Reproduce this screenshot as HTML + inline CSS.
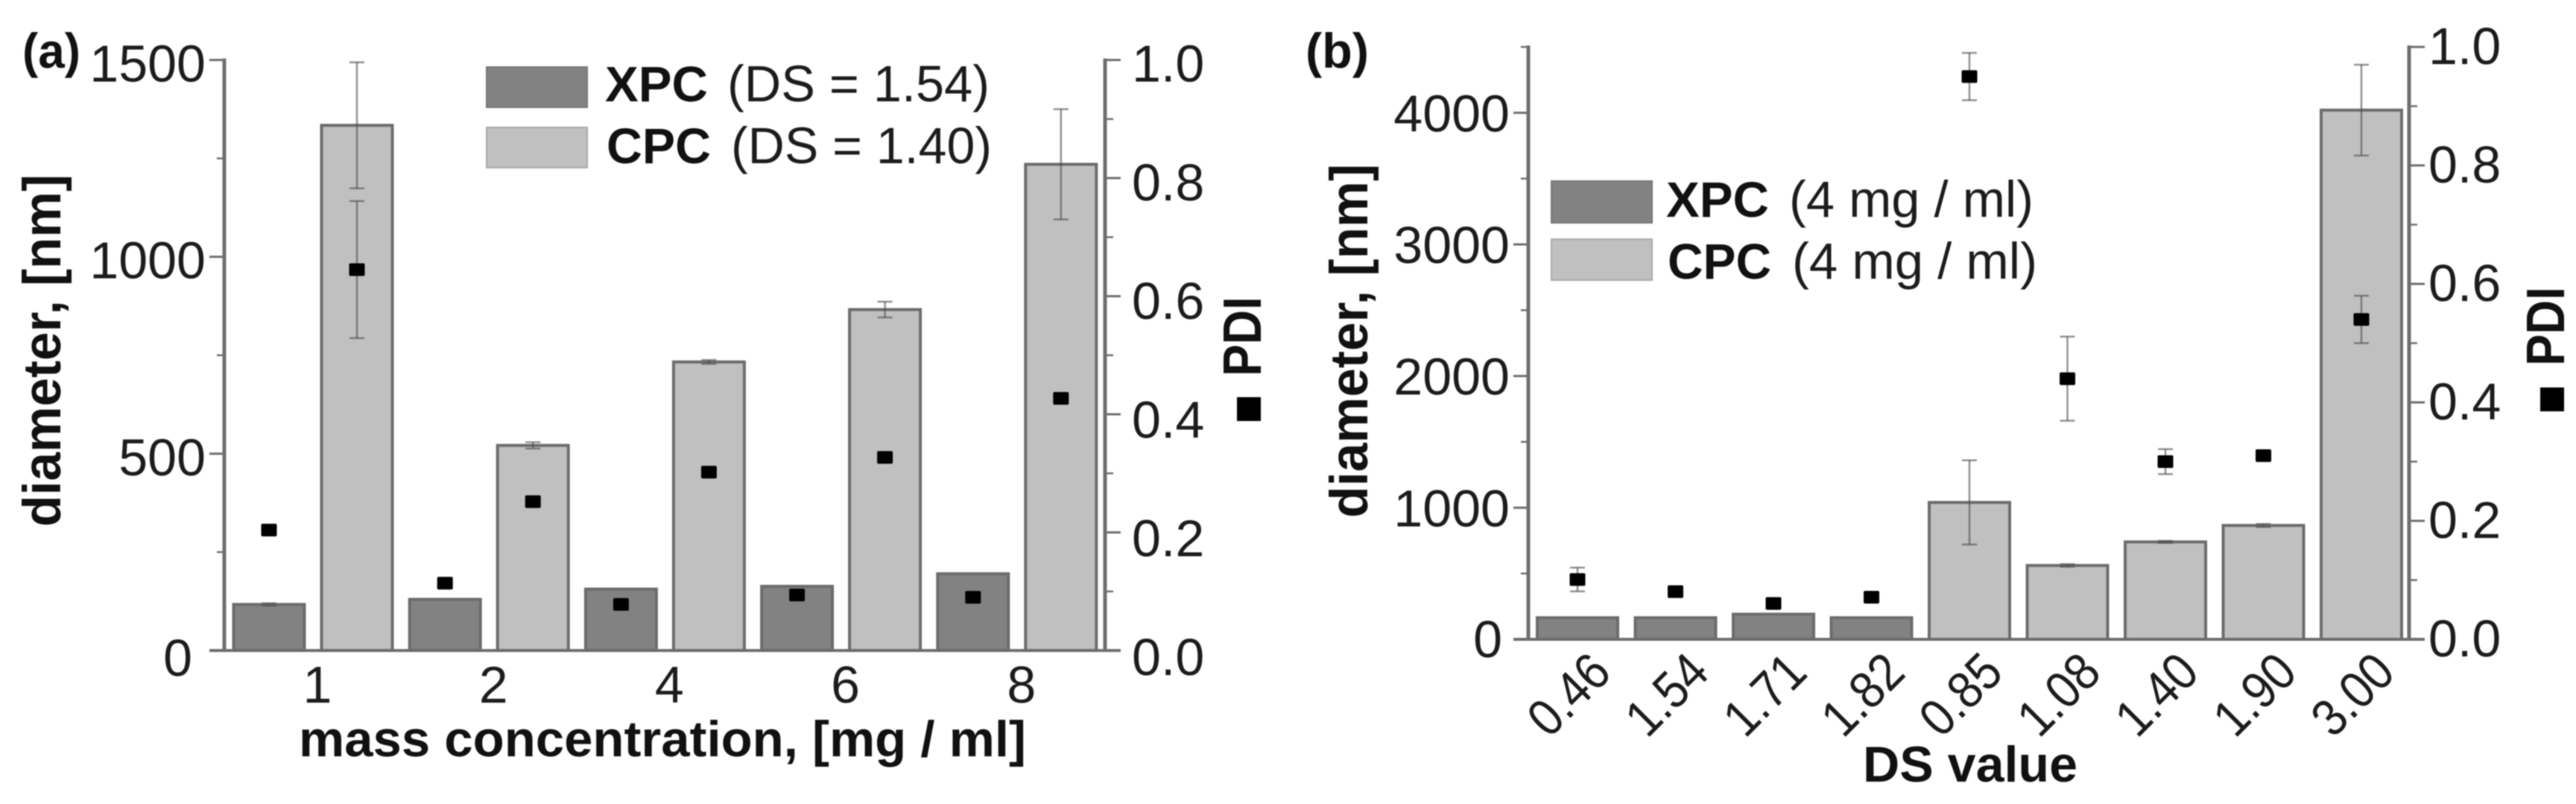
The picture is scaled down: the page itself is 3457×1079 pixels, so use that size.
<!DOCTYPE html>
<html lang="en">
<head>
<meta charset="utf-8">
<title>Diameter and PDI bar charts</title>
<style>
html,body{margin:0;padding:0;background:#fff;}
body{width:3457px;height:1079px;overflow:hidden;}
svg{display:block;filter:blur(0.9px);}
text{font-family:"Liberation Sans",Arial,sans-serif;fill:#1c1c1c;}
.b{font-weight:bold;fill:#111;}
</style>
</head>
<body>
<svg id="chart" width="3457" height="1079" viewBox="0 0 3457 1079" xmlns="http://www.w3.org/2000/svg">
  <rect width="3457" height="1079" fill="#ffffff"/>
  <g id="panelA">
    <text class="b" x="30" y="91" font-size="66" textLength="78" lengthAdjust="spacingAndGlyphs">(a)</text>
    <text class="b" x="81" y="707" font-size="71" textLength="473" lengthAdjust="spacingAndGlyphs" transform="rotate(-90 81 707)">diameter, [nm]</text>
    <text class="b" x="401" y="1015" font-size="68" textLength="976" lengthAdjust="spacingAndGlyphs">mass concentration, [mg / ml]</text>
    <text class="b" x="1692" y="505" font-size="72" textLength="107" lengthAdjust="spacingAndGlyphs" transform="rotate(-90 1692 505)">PDI</text>
    <rect x="1660" y="533" width="32" height="32" fill="#000"/>
    <g>
      <rect x="653" y="90" width="135" height="54" fill="#828282" stroke="#767676" stroke-width="2"/>
      <text class="b" x="812" y="136" font-size="67" textLength="138" lengthAdjust="spacingAndGlyphs">XPC</text>
      <text x="976" y="136" font-size="69" textLength="352" lengthAdjust="spacingAndGlyphs">(DS = 1.54)</text>
      <rect x="653" y="171" width="135" height="54" fill="#c0c0c0" stroke="#a8a8a8" stroke-width="2"/>
      <text class="b" x="814" y="219" font-size="67" textLength="140" lengthAdjust="spacingAndGlyphs">CPC</text>
      <text x="981" y="219" font-size="69" textLength="350" lengthAdjust="spacingAndGlyphs">(DS = 1.40)</text>
    </g>
  </g>
  <g id="panelB">
    <text class="b" x="1752" y="91" font-size="66" textLength="85" lengthAdjust="spacingAndGlyphs">(b)</text>
    <text class="b" x="1835" y="695" font-size="71" textLength="475" lengthAdjust="spacingAndGlyphs" transform="rotate(-90 1835 695)">diameter, [nm]</text>
    <text class="b" x="2500" y="1049" font-size="68" textLength="288" lengthAdjust="spacingAndGlyphs">DS value</text>
    <text class="b" x="3441" y="491" font-size="72" textLength="106" lengthAdjust="spacingAndGlyphs" transform="rotate(-90 3441 491)">PDI</text>
    <rect x="3409" y="520" width="32" height="32" fill="#000"/>
    <g>
      <rect x="2082" y="243" width="135" height="56" fill="#828282" stroke="#767676" stroke-width="2"/>
      <text class="b" x="2236" y="291" font-size="67" textLength="138" lengthAdjust="spacingAndGlyphs">XPC</text>
      <text x="2401" y="291" font-size="69" textLength="328" lengthAdjust="spacingAndGlyphs">(4 mg / ml)</text>
      <rect x="2082" y="321" width="135" height="55" fill="#c0c0c0" stroke="#a8a8a8" stroke-width="2"/>
      <text class="b" x="2238" y="374" font-size="67" textLength="139" lengthAdjust="spacingAndGlyphs">CPC</text>
      <text x="2405" y="374" font-size="69" textLength="329" lengthAdjust="spacingAndGlyphs">(4 mg / ml)</text>
    </g>
  </g>
</svg>
<script>
// Panel (a) data
const concentrationsA = ['1', '2', '4', '6', '8'];
const xpcDiameterA = [117, 130, 156, 163, 195];
const xpcDiameterErrA = [3, 0, 0, 0, 0];
const cpcDiameterA = [1334, 521, 733, 866, 1235];
const cpcDiameterErrA = [160, 8, 5, 20, 140];
const xpcPdiA = [0.204, 0.114, 0.078, 0.094, 0.090];
const xpcPdiErrA = [0, 0, 0, 0, 0];
const cpcPdiA = [0.645, 0.252, 0.302, 0.327, 0.427];
const cpcPdiErrA = [0.116, 0, 0, 0, 0];
const leftMajorA = [0, 500, 1000, 1500];
const leftMinorA = [250, 750, 1250];
const rightMajorA = ['0.0', '0.2', '0.4', '0.6', '0.8', '1.0'];
const rightMinorA = [0.1, 0.3, 0.5, 0.7, 0.9];

// Panel (b) data
const dsCategoriesB = ['0.46', '1.54', '1.71', '1.82', '0.85', '1.08', '1.40', '1.90', '3.00'];
const seriesB = ['xpc', 'xpc', 'xpc', 'xpc', 'cpc', 'cpc', 'cpc', 'cpc', 'cpc'];
const diameterB = [164, 164, 191, 164, 1040, 561, 740, 865, 4020];
const diameterErrB = [0, 0, 0, 0, 320, 10, 8, 12, 345];
const pdiB = [0.101, 0.0805, 0.0606, 0.071, 0.95, 0.44, 0.30, 0.31, 0.54];
const pdiErrB = [0.02, 0, 0, 0, 0.04, 0.071, 0.021, 0.005, 0.04];
const leftMajorB = [0, 1000, 2000, 3000, 4000];
const leftMinorB = [500, 1500, 2500, 3500, 4500];
const rightMajorB = ['0.0', '0.2', '0.4', '0.6', '0.8', '1.0'];
const rightMinorB = [0.1, 0.3, 0.5, 0.7, 0.9];

const SVGNS = 'http://www.w3.org/2000/svg';
const FILL = { xpc: '#828282', cpc: '#c0c0c0' };
const AXIS_COLOR = '#6f6f6f';

function make(tag, attrs, parent) {
  const el = document.createElementNS(SVGNS, tag);
  for (const k in attrs) el.setAttribute(k, attrs[k]);
  parent.appendChild(el);
  return el;
}
function linear(d0, d1, r0, r1) {
  return function (v) { return r0 + (v - d0) / (d1 - d0) * (r1 - r0); };
}
function line(parent, x1, y1, x2, y2, color, width, opacity) {
  return make('line', { x1: x1, y1: y1, x2: x2, y2: y2, stroke: color, 'stroke-width': width, 'stroke-opacity': opacity === undefined ? 1 : opacity }, parent);
}
function label(parent, txt, x, y, anchor, size) {
  const t = make('text', { x: x, y: y, 'text-anchor': anchor, 'font-size': size }, parent);
  t.textContent = txt;
  return t;
}

function drawAxes(parent, cfg) {
  const g = make('g', {}, parent);
  
  
  const axL = line(g, cfg.axisL, cfg.yTop - 2, cfg.axisL, cfg.y0 + 2, AXIS_COLOR, 5);
  
  
  const axR = line(g, cfg.axisR, cfg.yTop - 2, cfg.axisR, cfg.y0 + 2, AXIS_COLOR, 5);
  
  
  const axB = line(g, cfg.axisL - 20, cfg.y0, cfg.axisR + 21, cfg.y0, AXIS_COLOR, 4);
  
  
  cfg.leftMajor.forEach(function (v) {
    const y = cfg.yD(v);
    const tick = line(g, cfg.axisL - 20, y, cfg.axisL, y, AXIS_COLOR, 3);
    
    
    const t = label(g, String(v), cfg.leftLabelX + (v === 0 ? cfg.zeroNudge : 0), y + (v === 0 ? cfg.zeroDy : cfg.leftDy), 'end', 70);
    
    
  });
  cfg.leftMinor.forEach(function (v) {
    const tick = line(g, cfg.axisL - 10, cfg.yD(v), cfg.axisL, cfg.yD(v), AXIS_COLOR, 2.5);
    
    
  });
  cfg.rightMajor.forEach(function (s) {
    const v = parseFloat(s);
    const y = cfg.yP(v);
    const tick = line(g, cfg.axisR, y, cfg.axisR + 21, y, AXIS_COLOR, 3);
    
    
    const t = label(g, s, cfg.rightLabelX, y + cfg.rightDy0 + cfg.rightDySlope * v, 'start', 70);
    
    
  });
  cfg.rightMinor.forEach(function (v) {
    const tick = line(g, cfg.axisR, cfg.yP(v), cfg.axisR + 11, cfg.yP(v), AXIS_COLOR, 2.5);
    
    
  });
}

function errorBar(parent, x, yHi, yLo, name) {
  const g = make('g', {}, parent);
  
  
  line(g, x, yHi, x, yLo, '#4a4a4a', 2.5, 0.6);
  line(g, x - 10, yHi, x + 10, yHi, '#4a4a4a', 2.5, 0.6);
  line(g, x - 10, yLo, x + 10, yLo, '#4a4a4a', 2.5, 0.6);
}

function drawBar(parent, cfg, cx, value, err, kind) {
  const y = cfg.yD(value);
  const r = make('rect', { x: cx - cfg.barW / 2, y: y, width: cfg.barW, height: cfg.y0 - y, fill: FILL[kind], stroke: '#6c6c6c', 'stroke-width': 4 }, parent);
  
  
  if (err > 0) errorBar(parent, cx, cfg.yD(value + err), cfg.yD(value - err), 'diameter-error-bar-' + cfg.id);
}

function drawMarker(parent, cfg, cx, value, err) {
  const y = cfg.yP(value);
  if (err > 0) errorBar(parent, cx, cfg.yP(value + err), cfg.yP(value - err), 'pdi-error-bar-' + cfg.id);
  const m = make('rect', { x: cx - 10.5, y: y - 8.5, width: 21, height: 17, rx: 2, fill: '#000' }, parent);
  
  
}

// ---- Panel (a) ----
const cfgA = {
  id: 'a', axisL: 301, axisR: 1483, yTop: 80.5, y0: 873, barW: 95,
  yD: linear(0, 1500, 873, 80.5), yP: linear(0, 1, 873, 80.5),
  leftMajor: leftMajorA, leftMinor: leftMinorA, rightMajor: rightMajorA, rightMinor: rightMinorA,
  leftLabelX: 276, leftDy: 29, zeroNudge: -18, zeroDy: 34, rightLabelX: 1519, rightDy0: 33, rightDySlope: -4
};
const panelA = document.getElementById('panelA');
drawAxes(panelA, cfgA);
const bandA = function (i) { return 361 + 236.2 * i; };
const marksA = make('g', {}, panelA);


concentrationsA.forEach(function (c, i) {
  const xX = bandA(i), xC = bandA(i) + 118;
  drawBar(marksA, cfgA, xX, xpcDiameterA[i], xpcDiameterErrA[i], 'xpc');
  drawBar(marksA, cfgA, xC, cpcDiameterA[i], cpcDiameterErrA[i], 'cpc');
  const t = label(marksA, c, (xX + xC) / 2 + 6, 943, 'middle', 70);
  
  
});
concentrationsA.forEach(function (c, i) {
  const xX = bandA(i), xC = bandA(i) + 118;
  drawMarker(marksA, cfgA, xX, xpcPdiA[i], xpcPdiErrA[i]);
  drawMarker(marksA, cfgA, xC, cpcPdiA[i], cpcPdiErrA[i]);
});

// ---- Panel (b) ----
const cfgB = {
  id: 'b', axisL: 2051, axisR: 3233, yTop: 63, y0: 858, barW: 108,
  yD: linear(0, 4500, 858, 63), yP: linear(0, 1, 858, 63),
  leftMajor: leftMajorB, leftMinor: leftMinorB, rightMajor: rightMajorB, rightMinor: rightMinorB,
  leftLabelX: 2026, leftDy: 25, zeroNudge: -10, zeroDy: 24, rightLabelX: 3259, rightDy0: 23, rightDySlope: 0
};
const panelB = document.getElementById('panelB');
drawAxes(panelB, cfgB);
const bandB = function (i) { return 2117 + 131.5 * i; };
const marksB = make('g', {}, panelB);


dsCategoriesB.forEach(function (c, i) {
  drawBar(marksB, cfgB, bandB(i), diameterB[i], diameterErrB[i], seriesB[i]);
  const x = bandB(i) + 5;
  const t = label(marksB, c, x, 949, 'middle', 70);
  t.setAttribute('textLength', '122');
  t.setAttribute('lengthAdjust', 'spacingAndGlyphs');
  t.setAttribute('transform', 'rotate(-45 ' + x + ' 949)');
  
  
});
dsCategoriesB.forEach(function (c, i) {
  drawMarker(marksB, cfgB, bandB(i), pdiB[i], pdiErrB[i]);
});
</script>
</body>
</html>
